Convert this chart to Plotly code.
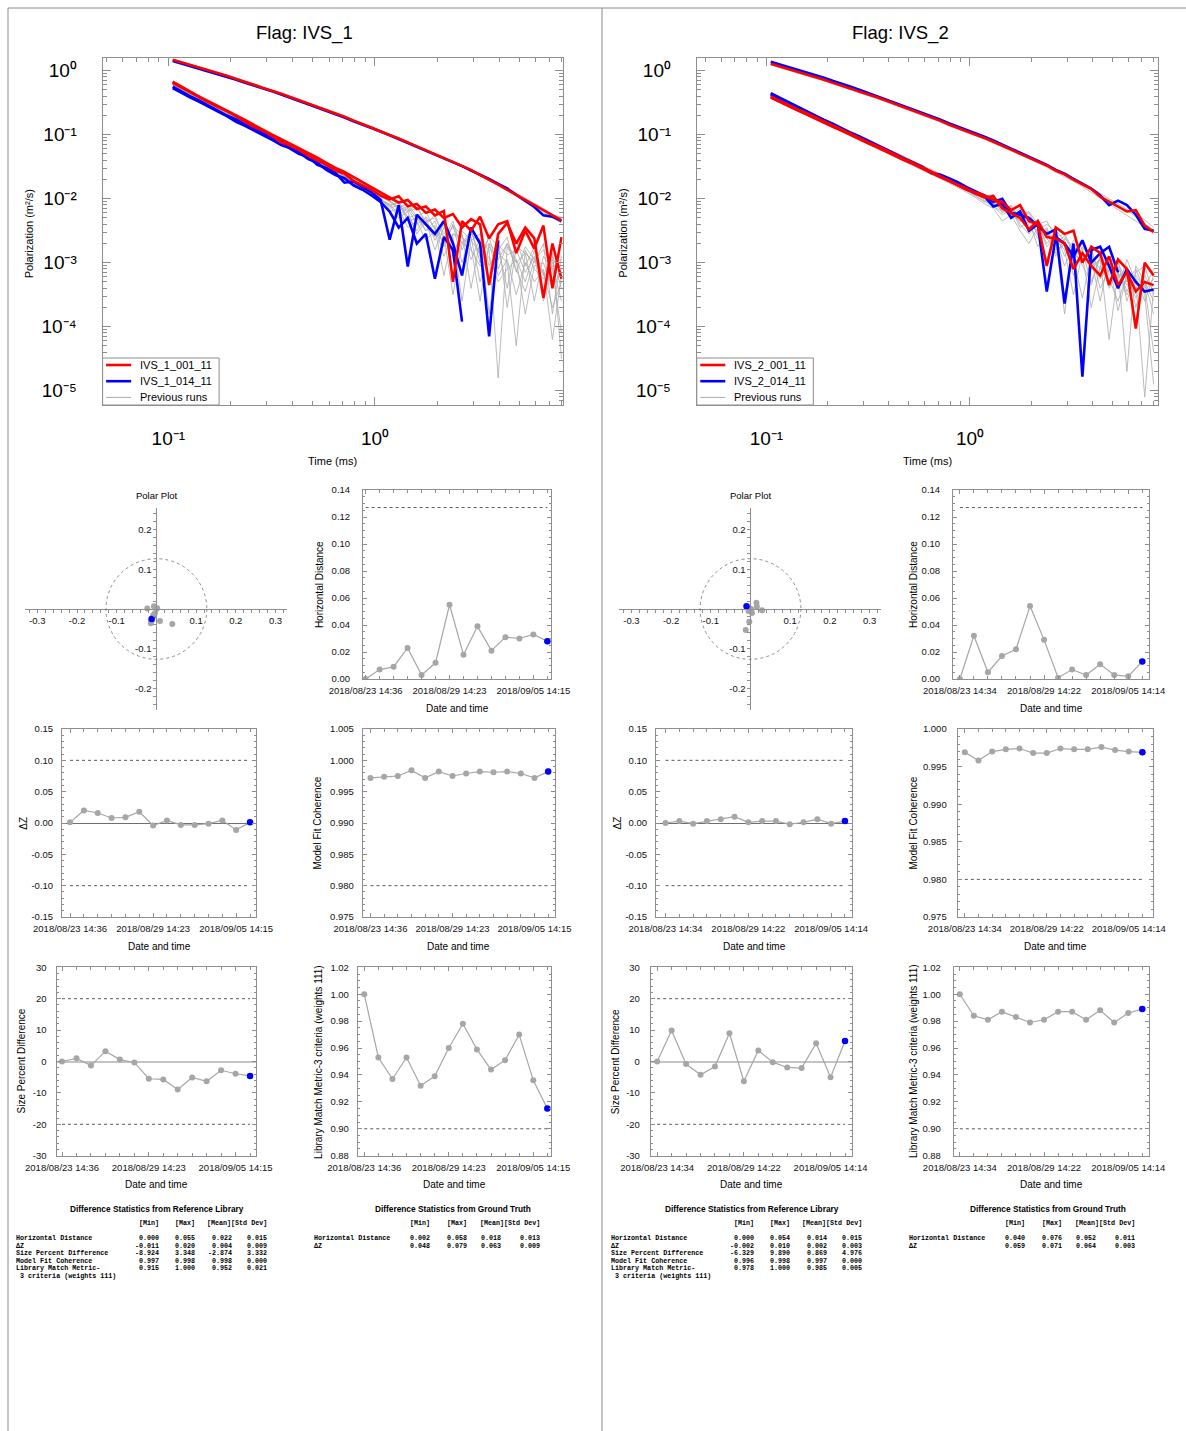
import plotly.graph_objects as go

W, H = 1186, 1431
SANS = "Arial, Liberation Sans, Helvetica, sans-serif"
MONO = "Courier New, Liberation Mono, monospace"
RED = "#ff0000"
BLUE = "#0000ff"
RUN_GRAY = "#ababab"
PT_GRAY = "#a6a6a6"
AX = "#8e8e8e"
FRAME = "#8a8a8a"
LIMIT = "#5a5a5a"

# ---------------------------------------------------------------- decay data
# receiver gate centres (ms)
t_ms = [0.105, 0.116, 0.128, 0.142, 0.157, 0.174, 0.192, 0.213, 0.235, 0.260,
        0.288, 0.318, 0.352, 0.389, 0.430, 0.476, 0.526, 0.582, 0.644, 0.712,
        0.787, 0.871, 0.963, 1.065, 1.178, 1.303, 1.441, 1.594, 1.763, 1.950,
        2.156, 2.385, 2.638, 2.917, 3.226, 3.568, 3.947, 4.365, 4.828, 5.339,
        5.905, 6.531, 7.223, 7.989]

# polarizabilities, stored as log10(m^3/s); None = gate not plotted (<= 0)
# ---- IVS_1
ivs1_001_primary = [0.17, 0.13, 0.09, 0.05, 0.01, -0.04, -0.08, -0.13, -0.17, -0.22,
                    -0.27, -0.31, -0.36, -0.41, -0.46, -0.51, -0.56, -0.62, -0.67, -0.72,
                    -0.78, -0.83, -0.89, -0.95, -1.00, -1.06, -1.12, -1.18, -1.24, -1.30,
                    -1.36, -1.43, -1.49, -1.55, -1.63, -1.70, -1.78, -1.86, -1.94, -2.02,
                    -2.10, -2.19, -2.27, -2.34]
ivs1_001_second = [-0.19, -0.26, -0.34, -0.42, -0.50, -0.57, -0.63, -0.71, -0.80, -0.88,
                   -0.94, -1.02, -1.12, -1.17, -1.24, -1.33, -1.40, -1.47, -1.56, -1.61,
                   -1.72, -1.79, -1.86, -1.95, -2.01, -1.96, -2.12, -2.08, -2.22, -2.17,
                   -2.30, -2.24, -2.45, -2.32, -2.40, -3.35, -2.55, -2.38, -2.70, -2.45,
                   -2.62, -3.55, -2.70, -3.25]
ivs1_001_third = [-0.17, -0.25, -0.33, -0.41, -0.48, -0.55, -0.63, -0.70, -0.77, -0.85,
                  -0.93, -1.00, -1.07, -1.14, -1.22, -1.29, -1.36, -1.44, -1.52, -1.58,
                  -1.66, -1.75, -1.83, -1.90, -1.98, -2.06, -2.02, -2.16, -2.12, -2.26,
                  -2.19, -3.30, -2.35, -2.50, -2.28, -2.62, -2.40, -2.35, -2.85, -2.50,
                  -2.78, -2.42, -3.40, -2.60]
ivs1_014_primary = [0.15, 0.11, 0.07, 0.03, -0.01, -0.05, -0.10, -0.14, -0.19, -0.23,
                    -0.28, -0.32, -0.37, -0.42, -0.47, -0.52, -0.57, -0.63, -0.68, -0.73,
                    -0.79, -0.84, -0.90, -0.95, -1.01, -1.07, -1.12, -1.18, -1.24, -1.30,
                    -1.37, -1.43, -1.49, -1.56, -1.62, -1.69, -1.77, -1.84, -1.94, -2.03,
                    -2.13, -2.26, -2.28, -2.35]
ivs1_014_second = [-0.25, -0.33, -0.40, -0.47, -0.55, -0.63, -0.70, -0.76, -0.84, -0.90,
                   -0.98, -1.06, -1.10, -1.22, -1.30, -1.34, -1.47, -1.52, -1.60, -1.75,
                   -1.73, -1.82, -1.90, -2.02, -2.64, -2.10, -3.06, -2.25, -2.40, -2.55,
                   -2.35, -2.70, -3.20, -2.45, -2.70, -4.15, -2.65, None, None, None,
                   None, None, None, None]
ivs1_014_third = [-0.27, -0.35, -0.42, -0.49, -0.57, -0.64, -0.71, -0.80, -0.86, -0.93,
                  -1.01, -1.08, -1.16, -1.21, -1.28, -1.38, -1.44, -1.55, -1.63, -1.68,
                  -1.79, -1.86, -1.95, -2.05, -2.20, -2.45, -2.30, -2.70, -2.55, -3.25,
                  -2.60, -2.80, -3.92, None, None, None, None, None, None, None,
                  None, None, None, None]
ivs1_prev_primary = [
    [0.18, 0.14, 0.10, 0.06, 0.02, -0.03, -0.07, -0.12, -0.16, -0.21,
     -0.26, -0.30, -0.35, -0.40, -0.45, -0.50, -0.55, -0.61, -0.66, -0.71,
     -0.77, -0.82, -0.88, -0.94, -0.99, -1.05, -1.11, -1.17, -1.23, -1.29,
     -1.35, -1.42, -1.48, -1.54, -1.61, -1.69, -1.76, -1.85, -1.92, -2.01,
     -2.08, -2.18, -2.24, -2.31],
    [0.16, 0.12, 0.08, 0.04, 0.00, -0.04, -0.09, -0.13, -0.18, -0.23,
     -0.27, -0.32, -0.37, -0.42, -0.47, -0.52, -0.57, -0.62, -0.68, -0.73,
     -0.79, -0.84, -0.90, -0.96, -1.01, -1.07, -1.13, -1.19, -1.25, -1.31,
     -1.37, -1.44, -1.50, -1.57, -1.64, -1.71, -1.79, -1.87, -1.96, -2.04,
     -2.12, -2.22, -2.30, -2.38],
    [0.18, 0.14, 0.10, 0.06, 0.02, -0.02, -0.07, -0.11, -0.16, -0.21,
     -0.25, -0.30, -0.35, -0.40, -0.45, -0.50, -0.55, -0.60, -0.66, -0.71,
     -0.76, -0.82, -0.87, -0.93, -0.99, -1.05, -1.11, -1.16, -1.22, -1.29,
     -1.35, -1.41, -1.48, -1.54, -1.61, -1.68, -1.76, -1.83, -1.91, -1.99,
     -2.08, -2.15, -2.25, -2.29],
]
ivs1_prev_secondary = [
    [-0.20, -0.28, -0.36, -0.43, -0.51, -0.58, -0.66, -0.73, -0.81, -0.88,
     -0.96, -1.03, -1.11, -1.18, -1.26, -1.33, -1.41, -1.49, -1.57, -1.64,
     -1.72, -1.80, -1.88, -1.97, -2.05, -2.12, -2.20, -2.15, -2.35, -2.30,
     -2.55, -2.45, -2.70, -2.50, -2.90, -2.60, -3.10, -2.70, -2.95, -3.30,
     -2.80, -3.50, -2.90, -3.20],
    [-0.22, -0.30, -0.37, -0.45, -0.52, -0.60, -0.67, -0.75, -0.83, -0.90,
     -0.98, -1.06, -1.13, -1.21, -1.29, -1.37, -1.45, -1.53, -1.60, -1.70,
     -1.77, -1.86, -1.92, -2.03, -2.08, -2.25, -2.15, -2.40, -2.30, -2.65,
     -2.40, -2.85, -2.55, -3.40, -2.65, -2.80, -4.80, -2.75, -3.00, -2.85,
     -3.60, -2.90, -3.10, -4.10],
    [-0.19, -0.27, -0.35, -0.42, -0.50, -0.57, -0.65, -0.72, -0.80, -0.88,
     -0.95, -1.03, -1.10, -1.18, -1.25, -1.34, -1.41, -1.50, -1.56, -1.66,
     -1.73, -1.82, -1.87, -2.00, -2.10, -2.05, -2.30, -2.25, -2.50, -2.35,
     -2.75, -2.40, -3.00, -2.55, -2.70, -3.30, -2.60, -3.70, -2.75, -2.85,
     -3.00, -2.70, -3.80, -2.90],
    [-0.21, -0.29, -0.36, -0.44, -0.51, -0.59, -0.66, -0.74, -0.82, -0.89,
     -0.97, -1.04, -1.12, -1.20, -1.27, -1.35, -1.43, -1.51, -1.59, -1.67,
     -1.75, -1.83, -1.91, -1.99, -2.15, -2.10, -2.28, -2.50, -2.28, -2.45,
     -3.20, -2.55, -2.60, -2.75, -3.60, -2.70, -2.85, -3.00, -4.30, -2.80,
     -3.10, -3.25, -2.95, -3.40],
    [-0.20, -0.27, -0.35, -0.43, -0.50, -0.58, -0.65, -0.73, -0.81, -0.89,
     -0.96, -1.04, -1.12, -1.19, -1.27, -1.35, -1.42, -1.50, -1.58, -1.66,
     -1.74, -1.81, -1.90, -1.98, -2.02, -2.18, -2.12, -2.32, -2.42, -2.60,
     -2.38, -2.90, -2.50, -2.65, -2.55, -3.05, -2.80, -2.60, -3.15, -2.75,
     -2.95, -2.80, -3.05, -3.60],
    [-0.23, -0.31, -0.38, -0.46, -0.53, -0.61, -0.68, -0.76, -0.84, -0.91,
     -0.99, -1.07, -1.15, -1.22, -1.30, -1.38, -1.46, -1.54, -1.62, -1.70,
     -1.79, -1.85, -1.96, -2.05, -2.20, -2.15, -2.45, -2.35, -2.65, -2.50,
     -2.58, -3.50, -2.70, -2.80, -3.05, -2.90, -3.30, -3.10, -2.95, -3.80,
     -3.05, -3.00, -3.40, -3.10],
    [-0.18, -0.26, -0.34, -0.41, -0.49, -0.56, -0.64, -0.71, -0.79, -0.86,
     -0.94, -1.01, -1.09, -1.16, -1.24, -1.31, -1.39, -1.46, -1.54, -1.61,
     -1.69, -1.77, -1.85, -1.93, -2.00, -2.08, -2.18, -2.10, -2.40, -2.25,
     -2.62, -2.35, -2.80, -2.48, -3.00, -2.58, -2.75, -3.40, -2.65, -3.05,
     -2.75, -3.20, -2.85, -4.50],
    [-0.21, -0.29, -0.37, -0.44, -0.52, -0.59, -0.67, -0.75, -0.82, -0.90,
     -0.97, -1.05, -1.13, -1.20, -1.28, -1.36, -1.44, -1.52, -1.60, -1.68,
     -1.76, -1.84, -1.93, -2.01, -2.10, -2.30, -2.20, -2.55, -2.35, -2.80,
     -2.45, -2.60, -3.60, -2.65, -2.85, -2.70, -3.20, -2.95, -3.50, -3.00,
     -3.30, -3.10, -4.20, -3.20],
    [-0.20, -0.28, -0.35, -0.43, -0.51, -0.58, -0.66, -0.74, -0.81, -0.89,
     -0.97, -1.04, -1.12, -1.19, -1.27, -1.34, -1.42, -1.49, -1.57, -1.65,
     -1.72, -1.80, -1.87, -1.96, -2.04, -2.14, -2.08, -2.28, -2.20, -2.48,
     -2.70, -2.42, -2.58, -2.95, -2.62, -3.80, -2.72, -2.88, -2.80, -3.15,
     -2.90, -3.60, -3.00, -2.95],
    [-0.22, -0.29, -0.37, -0.45, -0.52, -0.60, -0.68, -0.75, -0.83, -0.91,
     -0.98, -1.06, -1.14, -1.21, -1.29, -1.37, -1.45, -1.53, -1.61, -1.69,
     -1.78, -1.86, -1.94, -2.02, -2.12, -2.06, -2.35, -2.30, -2.50, -2.42,
     -2.90, -2.55, -2.68, -2.60, -3.30, -2.75, -2.95, -2.70, -3.10, -3.45,
     -2.95, -3.15, -3.70, -3.30],
]

# ---- IVS_2
ivs2_001_primary = [0.11, 0.07, 0.03, -0.01, -0.05, -0.10, -0.14, -0.19, -0.23, -0.28,
                    -0.33, -0.37, -0.42, -0.47, -0.52, -0.57, -0.62, -0.68, -0.73, -0.78,
                    -0.84, -0.89, -0.95, -1.00, -1.05, -1.11, -1.17, -1.23, -1.29, -1.35,
                    -1.41, -1.48, -1.56, -1.62, -1.70, -1.77, -1.85, -1.97, -2.05, -2.12,
                    -2.20, -2.18, -2.42, -2.52]
ivs2_001_second = [-0.42, -0.49, -0.55, -0.62, -0.68, -0.75, -0.81, -0.88, -0.94, -1.01,
                   -1.07, -1.14, -1.20, -1.27, -1.33, -1.40, -1.46, -1.53, -1.59, -1.66,
                   -1.72, -1.79, -1.86, -1.90, -1.95, -2.02, -2.05, -2.18, -2.10, -2.35,
                   -2.40, -3.05, -2.45, -2.55, -2.50, -3.00, -2.75, -2.85, -3.35, -2.95,
                   -3.10, -4.03, -3.00, -3.20]
ivs2_001_third = [-0.40, -0.47, -0.53, -0.60, -0.66, -0.73, -0.79, -0.86, -0.92, -0.99,
                  -1.05, -1.12, -1.18, -1.25, -1.31, -1.38, -1.44, -1.51, -1.58, -1.64,
                  -1.71, -1.78, -1.84, -1.92, -1.98, -1.96, -2.15, -2.22, -2.30, -2.48,
                  -2.35, -2.60, -2.62, -2.70, -3.10, -2.85, -3.05, -3.20, -2.90, -3.35,
                  -3.15, -3.45, -3.30, -3.35]
ivs2_014_primary = [0.14, 0.10, 0.06, 0.02, -0.02, -0.07, -0.11, -0.16, -0.20, -0.25,
                    -0.30, -0.35, -0.40, -0.45, -0.50, -0.55, -0.60, -0.66, -0.71, -0.76,
                    -0.82, -0.87, -0.93, -0.98, -1.03, -1.09, -1.16, -1.22, -1.28, -1.34,
                    -1.40, -1.47, -1.55, -1.61, -1.69, -1.76, -1.84, -1.95, -2.10, -2.03,
                    -2.10, -2.25, -2.47, -2.50]
ivs2_014_second = [-0.35, -0.42, -0.49, -0.56, -0.63, -0.70, -0.77, -0.83, -0.90, -0.97,
                   -1.03, -1.10, -1.17, -1.23, -1.30, -1.37, -1.43, -1.50, -1.60, -1.62,
                   -1.68, -1.74, -1.82, -1.88, -1.95, -2.05, -2.00, -2.22, -2.25, -2.30,
                   -2.42, -2.55, -2.48, -3.64, -2.70, -4.78, -2.80, -2.75, -3.05, -3.40,
                   -3.10, -3.30, -3.45, -3.42]
ivs2_014_third = [-0.37, -0.44, -0.51, -0.57, -0.64, -0.71, -0.78, -0.84, -0.91, -0.98,
                  -1.04, -1.11, -1.18, -1.24, -1.31, -1.38, -1.44, -1.51, -1.58, -1.65,
                  -1.71, -1.79, -1.85, -1.92, -1.96, -2.12, -2.08, -2.30, -2.20, -2.50,
                  -2.40, -3.45, -2.60, -2.70, -2.90, -2.65, -3.00, -2.85, -2.75, -3.15,
                  None, None, None, None]
ivs2_prev_primary = [
    [0.13, 0.09, 0.05, 0.01, -0.03, -0.08, -0.12, -0.17, -0.21, -0.26,
     -0.31, -0.35, -0.40, -0.45, -0.50, -0.55, -0.60, -0.66, -0.71, -0.76,
     -0.82, -0.87, -0.93, -0.98, -1.03, -1.09, -1.15, -1.21, -1.27, -1.33,
     -1.39, -1.46, -1.53, -1.60, -1.67, -1.75, -1.83, -1.92, -2.00, -2.08,
     -2.16, -2.24, -2.33, -2.45],
    [0.09, 0.05, 0.01, -0.03, -0.07, -0.12, -0.16, -0.21, -0.25, -0.30,
     -0.35, -0.39, -0.44, -0.49, -0.54, -0.59, -0.64, -0.70, -0.75, -0.80,
     -0.86, -0.91, -0.97, -1.02, -1.07, -1.13, -1.19, -1.25, -1.31, -1.37,
     -1.44, -1.51, -1.58, -1.65, -1.73, -1.81, -1.90, -1.99, -2.08, -2.16,
     -2.25, -2.34, -2.44, -2.55],
    [0.12, 0.08, 0.04, 0.00, -0.04, -0.09, -0.13, -0.18, -0.22, -0.27,
     -0.32, -0.36, -0.41, -0.46, -0.51, -0.56, -0.61, -0.67, -0.72, -0.77,
     -0.83, -0.88, -0.94, -0.99, -1.04, -1.10, -1.16, -1.22, -1.28, -1.34,
     -1.40, -1.47, -1.55, -1.61, -1.69, -1.76, -1.84, -1.94, -2.02, -2.10,
     -2.18, -2.28, -2.38, -2.49],
]
ivs2_prev_secondary = [
    [-0.39, -0.46, -0.52, -0.59, -0.65, -0.72, -0.78, -0.85, -0.91, -0.98,
     -1.04, -1.11, -1.17, -1.24, -1.30, -1.37, -1.43, -1.50, -1.56, -1.63,
     -1.69, -1.76, -1.83, -1.90, -1.97, -2.04, -2.10, -2.18, -2.25, -2.20,
     -2.40, -2.35, -2.60, -2.55, -2.80, -2.70, -3.00, -2.85, -3.20, -3.00,
     -3.30, -3.10, -3.45, -3.25],
    [-0.41, -0.48, -0.54, -0.61, -0.67, -0.74, -0.80, -0.87, -0.93, -1.00,
     -1.06, -1.13, -1.19, -1.26, -1.32, -1.39, -1.45, -1.52, -1.58, -1.65,
     -1.71, -1.78, -1.85, -1.93, -2.00, -2.08, -2.02, -2.25, -2.35, -2.28,
     -2.55, -2.95, -2.50, -2.65, -3.20, -2.75, -2.95, -3.60, -2.90, -3.10,
     -4.70, -3.05, -3.30, -3.60],
    [-0.38, -0.45, -0.51, -0.58, -0.64, -0.71, -0.77, -0.84, -0.90, -0.97,
     -1.03, -1.10, -1.16, -1.23, -1.29, -1.36, -1.42, -1.49, -1.55, -1.62,
     -1.68, -1.74, -1.81, -1.87, -1.98, -1.93, -2.15, -2.12, -2.30, -2.45,
     -2.32, -2.55, -2.70, -2.58, -2.85, -3.00, -2.78, -3.25, -3.05, -3.40,
     -2.95, -3.30, -5.10, -3.40],
    [-0.42, -0.49, -0.56, -0.62, -0.69, -0.75, -0.82, -0.88, -0.95, -1.01,
     -1.08, -1.14, -1.21, -1.27, -1.34, -1.40, -1.47, -1.54, -1.60, -1.67,
     -1.74, -1.80, -1.88, -1.95, -2.03, -2.12, -2.20, -2.10, -2.40, -2.55,
     -2.38, -2.75, -2.60, -3.80, -2.70, -2.85, -3.10, -2.95, -3.40, -3.15,
     -3.50, -3.25, -3.60, -3.20],
    [-0.40, -0.47, -0.53, -0.60, -0.66, -0.73, -0.79, -0.86, -0.92, -0.99,
     -1.05, -1.12, -1.18, -1.25, -1.31, -1.38, -1.45, -1.51, -1.58, -1.64,
     -1.70, -1.77, -1.84, -1.91, -1.95, -2.06, -2.18, -2.25, -2.15, -2.42,
     -2.62, -2.45, -2.85, -2.70, -2.95, -3.55, -2.90, -3.10, -3.00, -3.75,
     -3.20, -3.55, -3.35, -4.40],
    [-0.36, -0.43, -0.50, -0.56, -0.63, -0.69, -0.76, -0.82, -0.89, -0.95,
     -1.02, -1.08, -1.15, -1.21, -1.28, -1.34, -1.41, -1.48, -1.54, -1.61,
     -1.67, -1.74, -1.80, -1.88, -1.93, -2.00, -2.08, -2.14, -2.28, -2.22,
     -2.48, -2.40, -2.52, -2.90, -2.65, -2.78, -3.35, -2.88, -3.05, -2.95,
     -3.60, -3.15, -3.05, -3.50],
    [-0.39, -0.46, -0.53, -0.59, -0.66, -0.72, -0.79, -0.85, -0.92, -0.98,
     -1.05, -1.11, -1.18, -1.24, -1.31, -1.37, -1.44, -1.51, -1.57, -1.64,
     -1.70, -1.77, -1.84, -1.92, -2.02, -2.10, -2.05, -2.30, -2.22, -2.52,
     -2.40, -2.70, -2.58, -3.05, -2.75, -2.95, -2.85, -3.40, -3.10, -3.25,
     -3.05, -3.70, -3.20, -3.45],
    [-0.41, -0.47, -0.54, -0.60, -0.67, -0.73, -0.80, -0.86, -0.93, -0.99,
     -1.06, -1.12, -1.19, -1.25, -1.32, -1.38, -1.45, -1.52, -1.59, -1.66,
     -1.72, -1.80, -1.87, -1.95, -2.05, -1.98, -2.22, -2.15, -2.45, -2.35,
     -2.75, -2.50, -2.65, -2.80, -3.50, -2.85, -3.05, -2.95, -4.20, -3.15,
     -3.35, -3.25, -3.50, -4.90],
    [-0.38, -0.45, -0.51, -0.58, -0.64, -0.71, -0.77, -0.84, -0.90, -0.97,
     -1.03, -1.10, -1.16, -1.23, -1.29, -1.36, -1.42, -1.49, -1.56, -1.62,
     -1.69, -1.76, -1.82, -1.90, -1.96, -2.12, -2.25, -2.18, -2.35, -2.30,
     -2.58, -2.48, -2.90, -2.62, -2.78, -3.05, -3.30, -2.92, -3.15, -3.05,
     -3.45, -3.20, -3.40, -3.10],
    [-0.43, -0.50, -0.56, -0.63, -0.69, -0.76, -0.82, -0.89, -0.95, -1.02,
     -1.08, -1.15, -1.22, -1.28, -1.35, -1.41, -1.48, -1.55, -1.62, -1.68,
     -1.75, -1.82, -1.90, -1.98, -2.08, -2.15, -2.35, -2.25, -2.50, -2.70,
     -2.45, -2.62, -2.80, -2.72, -3.00, -2.90, -3.70, -3.05, -3.25, -3.60,
     -3.20, -3.40, -3.30, -3.80],
]

# ---------------------------------------------------------------- run metrics
run_index = list(range(14))
date_tick_index = [0, 6, 12]
date_ticks_1 = ["2018/08/23 14:36", "2018/08/29 14:23", "2018/09/05 14:15"]
date_ticks_2 = ["2018/08/23 14:34", "2018/08/29 14:22", "2018/09/05 14:14"]

hd_limit = 0.127          # horizontal distance tolerance (m)
dz_limits = [0.10, -0.10]
mfc_limit = 0.98
spd_limits = [20, -20]
lmm_limit = 0.90

polar_x_1 = [0.000, -0.005, -0.006, -0.023, 0.002, -0.004, 0.040, -0.008, -0.014, -0.008, 0.009, -0.011, -0.013, -0.012]
polar_y_1 = [0.000, 0.005, 0.007, 0.001, 0.002, -0.011, -0.038, -0.016, -0.036, -0.019, -0.030, -0.028, -0.030, -0.025]
hd_1 = [0.000, 0.007, 0.009, 0.023, 0.003, 0.012, 0.055, 0.018, 0.039, 0.021, 0.031, 0.030, 0.033, 0.028]
dz_1 = [0.001, 0.020, 0.016, 0.008, 0.009, 0.018, -0.004, 0.004, -0.003, -0.003, -0.001, 0.004, -0.011, 0.001]
mfc_1 = [0.9972, 0.9974, 0.9975, 0.9984, 0.9972, 0.9982, 0.9975, 0.9979, 0.9982, 0.9981, 0.9982, 0.9979, 0.9972, 0.9982]
spd_1 = [0.0, 1.0, -1.3, 3.3, 0.6, -0.3, -5.5, -5.7, -8.9, -5.1, -6.3, -2.8, -3.9, -4.6]
lmm_1 = [1.000, 0.953, 0.937, 0.953, 0.932, 0.939, 0.960, 0.978, 0.959, 0.944, 0.951, 0.970, 0.936, 0.915]

polar_x_2 = [0.000, -0.003, -0.003, 0.016, 0.015, -0.012, 0.029, 0.001, -0.005, 0.002, 0.004, -0.002, 0.001, -0.010]
polar_y_2 = [0.000, -0.032, -0.004, 0.006, 0.016, -0.053, -0.003, 0.000, -0.005, -0.002, -0.010, -0.002, -0.002, 0.007]
hd_2 = [0.000, 0.032, 0.005, 0.017, 0.022, 0.054, 0.029, 0.001, 0.007, 0.003, 0.011, 0.003, 0.002, 0.013]
dz_2 = [0.000, 0.003, -0.001, 0.003, 0.006, 0.010, 0.001, 0.003, 0.003, -0.002, 0.001, 0.006, -0.001, 0.003]
mfc_2 = [0.9969, 0.9958, 0.9970, 0.9973, 0.9974, 0.9968, 0.9968, 0.9974, 0.9973, 0.9973, 0.9976, 0.9972, 0.9970, 0.9969]
spd_2 = [0.0, 9.9, -0.8, -4.2, -1.6, 9.0, -6.3, 3.5, -0.2, -1.9, -2.1, 5.8, -5.0, 6.5]
lmm_2 = [1.000, 0.984, 0.981, 0.987, 0.983, 0.979, 0.981, 0.987, 0.987, 0.981, 0.988, 0.979, 0.986, 0.989]

# ---------------------------------------------------------------- statistics tables
stats_header = ["[Min]", "[Max]", "[Mean][Std Dev]"]
ref_labels = ["Horizontal Distance", "\u0394Z", "Size Percent Difference",
              "Model Fit Coherence", "Library Match Metric-"]
ref_label_tail = "\u00a03 criteria (weights 111)"
gt_labels = ["Horizontal Distance", "\u0394Z"]
ref_stats_1 = [["0.000", "0.055", "0.022", "0.015"],
               ["-0.011", "0.020", "0.004", "0.009"],
               ["-8.924", "3.348", "-2.874", "3.332"],
               ["0.997", "0.998", "0.998", "0.000"],
               ["0.915", "1.000", "0.952", "0.021"]]
gt_stats_1 = [["0.002", "0.058", "0.018", "0.013"],
              ["0.048", "0.079", "0.063", "0.009"]]
ref_stats_2 = [["0.000", "0.054", "0.014", "0.015"],
               ["-0.002", "0.010", "0.002", "0.003"],
               ["-6.329", "9.890", "0.869", "4.976"],
               ["0.996", "0.998", "0.997", "0.000"],
               ["0.978", "1.000", "0.985", "0.005"]]
gt_stats_2 = [["0.040", "0.076", "0.052", "0.011"],
              ["0.059", "0.071", "0.064", "0.003"]]

decay_ytick_vals = [1e0, 1e-1, 1e-2, 1e-3, 1e-4, 1e-5]
decay_ytick_text = ["10\u2070", "10\u207b\u00b9", "10\u207b\u00b2",
                    "10\u207b\u00b3", "10\u207b\u2074", "10\u207b\u2075"]
decay_xtick_vals = [0.1, 1.0]
decay_xtick_text = ["10\u207b\u00b9", "10\u2070"]

# ---------------------------------------------------------------- figure helpers
fig = go.Figure()
layout = dict(template="none", width=W, height=H, autosize=False,
              margin=dict(l=0, r=0, t=0, b=0, pad=0),
              paper_bgcolor="white", plot_bgcolor="white", showlegend=False,
              font=dict(family=SANS, color="#000"))
shapes, annotations = [], []
_n = [0]
_extra = [40]


def px(x):
    return x / W


def py(y):
    return 1 - y / H


def add_axes(box, xa, ya):
    _n[0] += 1
    s = "" if _n[0] == 1 else str(_n[0])
    x0, x1, y0, y1 = box
    xa = dict(xa, domain=[px(x0), px(x1)], automargin=False)
    ya = dict(ya, domain=[py(y1), py(y0)], automargin=False)
    xa.setdefault("anchor", "y" + s)
    ya.setdefault("anchor", "x" + s)
    layout["xaxis" + s] = xa
    layout["yaxis" + s] = ya
    return "x" + s, "y" + s


def add_overlay(letter, spec):
    _extra[0] += 1
    layout["%saxis%d" % (letter, _extra[0])] = dict(spec, automargin=False)


def note(x, y, text, size, family=SANS, xanchor="center", angle=0):
    annotations.append(dict(xref="paper", yref="paper", x=px(x), y=py(y), text=text,
                            showarrow=False, xanchor=xanchor, yanchor="middle",
                            textangle=angle, borderpad=0,
                            font=dict(family=family, size=size, color="#000")))


def hline(x0, y0, x1, y1, color, width, dash="solid"):
    shapes.append(dict(type="line", xref="paper", yref="paper", x0=px(x0), y0=py(y0),
                       x1=px(x1), y1=py(y1), line=dict(color=color, width=width, dash=dash)))


def tenpow(vals):
    return [None if v is None else 10 ** v for v in vals]


minor_log_x = [m * 10.0 ** e for e in (-2, -1, 0) for m in range(2, 10)]
minor_log_y = [m * 10.0 ** e for e in range(-6, 1) for m in range(2, 10)]


def decay_panel(box, xrange_, flag, title_x, ylab_x, names, red, blue, prev):
    x0, x1, y0, y1 = box
    common = dict(type="log", ticks="inside", ticklen=8, tickwidth=1, tickcolor=AX,
                  showline=True, linecolor=AX, linewidth=1, mirror="ticks",
                  showgrid=False, zeroline=False, tickmode="array",
                  tickfont=dict(family=SANS, size=19, color="#000"))
    xa = dict(common, range=list(xrange_), tickvals=decay_xtick_vals, ticktext=decay_xtick_text,
              ticklabelstandoff=16,
              minor=dict(tickmode="array", tickvals=minor_log_x, ticks="inside", ticklen=4,
                         tickcolor=AX))
    ya = dict(common, range=[-5.223, 0.194], tickvals=decay_ytick_vals, ticktext=decay_ytick_text,
              ticklabelstandoff=21,
              minor=dict(tickmode="array", tickvals=minor_log_y, ticks="inside", ticklen=4,
                         tickcolor=AX))
    xr, yr = add_axes(box, xa, ya)
    for arr in prev:
        fig.add_trace(go.Scatter(x=t_ms, y=tenpow(arr), mode="lines", name="Previous runs",
                                 line=dict(color=RUN_GRAY, width=0.8), xaxis=xr, yaxis=yr,
                                 hoverinfo="skip"))
    for arr in blue:
        fig.add_trace(go.Scatter(x=t_ms, y=tenpow(arr), mode="lines", name=names[1],
                                 line=dict(color=BLUE, width=2.6), xaxis=xr, yaxis=yr))
    for arr in red:
        fig.add_trace(go.Scatter(x=t_ms, y=tenpow(arr), mode="lines", name=names[0],
                                 line=dict(color=RED, width=2.6), xaxis=xr, yaxis=yr))
    note(title_x, 33, flag, 18.5)
    note((x0 + x1) / 2, 461.5, "Time (ms)", 11)
    note(ylab_x, (y0 + y1) / 2 + 2, "Polarization (m\u00b2/s)", 11, angle=-90)
    # legend box, lower-left corner of the plot
    lx0, ly1 = x0, y1
    shapes.append(dict(type="rect", xref="paper", yref="paper", x0=px(lx0), x1=px(lx0 + 116.5),
                       y0=py(ly1), y1=py(ly1 - 47), line=dict(color=AX, width=1),
                       fillcolor="white", layer="above"))
    entries = [(names[0], RED, 2.6), (names[1], BLUE, 2.6), ("Previous runs", RUN_GRAY, 1)]
    for k, (label, color, width) in enumerate(entries):
        yy = ly1 - 40 + 16.2 * k
        shapes.append(dict(type="line", xref="paper", yref="paper", x0=px(lx0 + 3.5),
                           x1=px(lx0 + 28.5), y0=py(yy), y1=py(yy),
                           line=dict(color=color, width=width), layer="above"))
        note(lx0 + 36, yy, label, 11, xanchor="left")


def polar_panel(box, xs, ys):
    x0, x1, y0, y1 = box
    xlo, xhi, ylim = -0.331, 0.329, 0.255
    ox = x0 + (0 - xlo) / (xhi - xlo) * (x1 - x0)
    oy = (y0 + y1) / 2
    base = dict(showline=True, linecolor=AX, linewidth=1, ticks="outside", ticklen=3,
                tickcolor=AX, showgrid=False, zeroline=False, tickmode="array",
                tickfont=dict(family=SANS, size=9.5, color="#111"), anchor="free")
    grid02 = [round(k * 0.02, 2) for k in range(-16, 17)]
    xmajor = [-0.3, -0.2, -0.1, 0.1, 0.2, 0.3]
    ymajor = [-0.2, -0.1, 0.1, 0.2]
    xa = dict(base, range=[xlo, xhi], position=py(oy), tickvals=xmajor,
              ticktext=["-0.3", "-0.2", "-0.1", "0.1", "0.2", "0.3"],
              minor=dict(tickmode="array", tickvals=grid02, ticks="outside", ticklen=3,
                         tickcolor=AX))
    ya = dict(base, range=[-ylim, ylim], position=px(ox), tickvals=ymajor,
              ticktext=["-0.2", "-0.1", "0.1", "0.2"],
              minor=dict(tickmode="array", tickvals=grid02, ticks="outside", ticklen=3,
                         tickcolor=AX))
    xr, yr = add_axes(box, xa, ya)
    # tick marks on the other side of both axis lines, so they cross the axes
    tick_only = dict(showline=False, showgrid=False, zeroline=False, showticklabels=False,
                     ticks="outside", ticklen=3, tickcolor=AX, tickmode="array",
                     anchor="free")
    add_overlay("x", dict(tick_only, overlaying=xr, side="top", position=py(oy),
                          range=[xlo, xhi], tickvals=xmajor,
                          minor=dict(tickmode="array", tickvals=grid02, ticks="outside",
                                     ticklen=3, tickcolor=AX)))
    add_overlay("y", dict(tick_only, overlaying=yr, side="right", position=px(ox),
                          range=[-ylim, ylim], tickvals=ymajor,
                          minor=dict(tickmode="array", tickvals=grid02, ticks="outside",
                                     ticklen=3, tickcolor=AX)))
    shapes.append(dict(type="circle", xref=xr, yref=yr, x0=-hd_limit, x1=hd_limit,
                       y0=-hd_limit, y1=hd_limit, line=dict(color="#707070", width=0.8, dash="dot")))
    fig.add_trace(go.Scatter(x=xs[:-1], y=ys[:-1], mode="markers",
                             marker=dict(color=PT_GRAY, size=6), xaxis=xr, yaxis=yr))
    fig.add_trace(go.Scatter(x=xs[-1:], y=ys[-1:], mode="markers",
                             marker=dict(color=BLUE, size=6.5), xaxis=xr, yaxis=yr))
    note(ox + 0.5, 496, "Polar Plot", 9.5)


def metric_panel(box, xrange_, values, spec, dates, ytitle_x, date_y, ystand):
    x0, x1, y0, y1 = box
    axis_common = dict(showline=True, linecolor=AX, linewidth=1, mirror="ticks",
                       ticks="inside", ticklen=4, tickcolor=AX, showgrid=False,
                       tickmode="array", tickfont=dict(family=SANS, size=9.5, color="#111"))
    xa = dict(axis_common, range=list(xrange_), tickvals=date_tick_index, ticktext=dates,
              zeroline=False, ticklabelstandoff=3,
              minor=dict(tickmode="array", tickvals=run_index, ticks="inside", ticklen=3,
                         tickcolor=AX))
    ya = dict(axis_common, range=list(spec["range"]), tickvals=spec["ticks"],
              ticktext=spec["labels"], ticklabelstandoff=ystand,
              minor=dict(tick0=spec["ticks"][0], dtick=spec["minor"], ticks="inside",
                         ticklen=2, tickcolor=AX))
    if spec.get("zero"):
        ya.update(zeroline=True, zerolinecolor=spec["zero"][0], zerolinewidth=spec["zero"][1])
    else:
        ya.update(zeroline=False)
    xr, yr = add_axes(box, xa, ya)
    for lim in spec["limits"]:
        fig.add_trace(go.Scatter(x=[run_index[0], run_index[-1]], y=[lim, lim], mode="lines",
                                 line=dict(color=LIMIT, width=1, dash="dot"), xaxis=xr, yaxis=yr,
                                 hoverinfo="skip"))
    fig.add_trace(go.Scatter(x=run_index, y=values, mode="lines+markers",
                             line=dict(color=PT_GRAY, width=1.2),
                             marker=dict(color=PT_GRAY, size=6), xaxis=xr, yaxis=yr))
    fig.add_trace(go.Scatter(x=run_index[-1:], y=values[-1:], mode="markers",
                             marker=dict(color=BLUE, size=6.5), xaxis=xr, yaxis=yr))
    note(ytitle_x, (y0 + y1) / 2, spec["title"], 10, angle=-90)
    note((x0 + x1) / 2, date_y, "Date and time", 10)


def stats_table(label_x, col_right, title_x, title, labels, rows, tail=None):
    note(title_x, 1209, "<b>%s</b>" % title, 8.3)
    for text, xr in zip(stats_header, [col_right[0], col_right[1], col_right[3]]):
        note(xr, 1223, "<b>%s</b>" % text, 6.7, family=MONO, xanchor="right")
    for k, (lab, vals) in enumerate(zip(labels, rows)):
        yy = 1238 + 7.5 * k
        note(label_x, yy, "<b>%s</b>" % lab, 6.7, family=MONO, xanchor="left")
        for v, xr in zip(vals, col_right):
            note(xr, yy, "<b>%s</b>" % v, 6.7, family=MONO, xanchor="right")
    if tail:
        note(label_x, 1238 + 7.5 * len(labels), "<b>%s</b>" % tail, 6.7, family=MONO,
             xanchor="left")


def specs(mfc_range, mfc_ticks, mfc_labels):
    return {
        "hd": dict(title="Horizontal Distance", range=(0, 0.14),
                   ticks=[0, 0.02, 0.04, 0.06, 0.08, 0.10, 0.12, 0.14],
                   labels=["0.00", "0.02", "0.04", "0.06", "0.08", "0.10", "0.12", "0.14"],
                   minor=0.005, limits=[hd_limit]),
        "dz": dict(title="\u0394Z", range=(-0.15, 0.15),
                   ticks=[-0.15, -0.10, -0.05, 0, 0.05, 0.10, 0.15],
                   labels=["-0.15", "-0.10", "-0.05", "0.00", "0.05", "0.10", "0.15"],
                   minor=0.01, limits=dz_limits, zero=("#6e6e6e", 1.4)),
        "mfc": dict(title="Model Fit Coherence", range=mfc_range, ticks=mfc_ticks,
                    labels=mfc_labels, minor=0.001, limits=[mfc_limit]),
        "spd": dict(title="Size Percent Difference", range=(-30, 30),
                    ticks=[-30, -20, -10, 0, 10, 20, 30],
                    labels=["-30", "-20", "-10", "0", "10", "20", "30"],
                    minor=2, limits=spd_limits, zero=("#c4c4c4", 2.2)),
        "lmm": dict(title="Library Match Metric-3 criteria (weights 111)", range=(0.88, 1.02),
                    ticks=[0.88, 0.90, 0.92, 0.94, 0.96, 0.98, 1.00, 1.02],
                    labels=["0.88", "0.90", "0.92", "0.94", "0.96", "0.98", "1.00", "1.02"],
                    minor=0.005, limits=[lmm_limit]),
    }


# ---------------------------------------------------------------- IVS_1 (left)
decay_panel((102.6, 562.6, 58.3, 405), (-1.318, 0.908), "Flag: IVS_1", 304, 28.7,
            ("IVS_1_001_11", "IVS_1_014_11"),
            [ivs1_001_primary, ivs1_001_second, ivs1_001_third],
            [ivs1_014_primary, ivs1_014_second, ivs1_014_third],
            ivs1_prev_primary + ivs1_prev_secondary)
polar_panel((25, 287, 508, 710), polar_x_1, polar_y_1)
sp1 = specs((0.975, 1.005), [0.975, 0.980, 0.985, 0.990, 0.995, 1.000, 1.005],
            ["0.975", "0.980", "0.985", "0.990", "0.995", "1.000", "1.005"])
metric_panel((363, 551, 490, 679), (-0.19, 13.26), hd_1, sp1["hd"], date_ticks_1, 319.6, 708, 10)
metric_panel((62, 256.4, 729, 917), (-0.58, 13.46), dz_1, sp1["dz"], date_ticks_1, 23.7, 946, 6)
metric_panel((362.8, 555, 729, 917), (-0.56, 13.5), mfc_1, sp1["mfc"], date_ticks_1, 317.6, 946, 6)
metric_panel((57.4, 256.4, 967.3, 1155.7), (-0.32, 13.44), spd_1, sp1["spd"], date_ticks_1, 21, 1184, 8)
metric_panel((357.8, 551, 967.3, 1155.7), (-0.46, 13.26), lmm_1, sp1["lmm"], date_ticks_1, 318.4, 1184, 6)
stats_table(15, [160, 196, 233, 268], 156.5, "Difference Statistics from Reference Library",
            ref_labels, ref_stats_1, ref_label_tail)
stats_table(313, [431, 468, 502, 541], 453, "Difference Statistics from Ground Truth",
            gt_labels, gt_stats_1)

# ---------------------------------------------------------------- IVS_2 (right)
decay_panel((696.8, 1157.8, 58.3, 405), (-1.342, 0.923), "Flag: IVS_2", 900, 623,
            ("IVS_2_001_11", "IVS_2_014_11"),
            [ivs2_001_primary, ivs2_001_second, ivs2_001_third],
            [ivs2_014_primary, ivs2_014_second, ivs2_014_third],
            ivs2_prev_primary + ivs2_prev_secondary)
polar_panel((619.1, 881.1, 508, 710), polar_x_2, polar_y_2)
sp2 = specs((0.975, 1.000), [0.975, 0.980, 0.985, 0.990, 0.995, 1.000],
            ["0.975", "0.980", "0.985", "0.990", "0.995", "1.000"])
metric_panel((953, 1149, 490, 679), (-0.49, 13.48), hd_2, sp2["hd"], date_ticks_2, 913.5, 708, 10)
metric_panel((656, 852.4, 729, 917), (-0.69, 13.54), dz_2, sp2["dz"], date_ticks_2, 618.4, 946, 6)
metric_panel((957.6, 1152.9, 729, 917), (-0.53, 13.77), mfc_2, sp2["mfc"], date_ticks_2, 913.5, 946, 8)
metric_panel((650.8, 852.4, 967.3, 1155.7), (-0.44, 13.51), spd_2, sp2["spd"], date_ticks_2, 615.7, 1184, 8)
metric_panel((953.8, 1149, 967.3, 1155.7), (-0.43, 13.48), lmm_2, sp2["lmm"], date_ticks_2, 913.5, 1184, 10)
stats_table(610, [755, 791, 828, 863], 751.5, "Difference Statistics from Reference Library",
            ref_labels, ref_stats_2, ref_label_tail)
stats_table(908, [1026, 1063, 1097, 1136], 1048, "Difference Statistics from Ground Truth",
            gt_labels, gt_stats_2)

# ---------------------------------------------------------------- page frame
hline(8, 8, 1186, 8, FRAME, 1)
hline(8, 8, 8, 1431, FRAME, 1)
hline(602, 8, 602, 1431, FRAME, 1)

layout["shapes"] = shapes
layout["annotations"] = annotations
fig.update_layout(**layout)
fig.write_html("out.html")
